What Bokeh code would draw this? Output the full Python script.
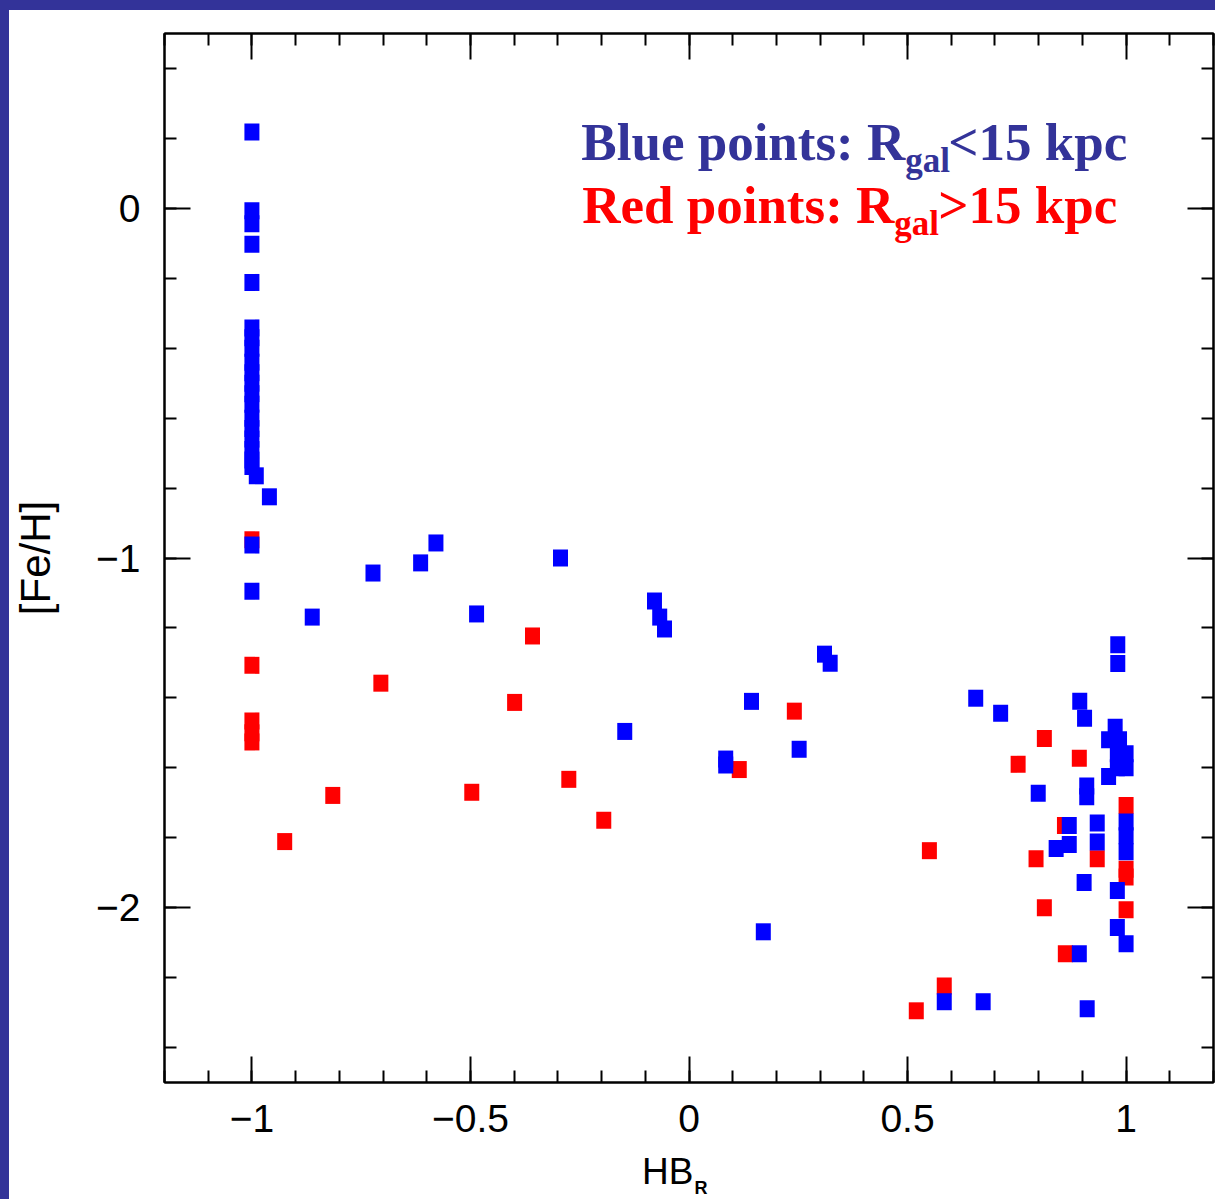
from bokeh.plotting import figure
from bokeh.models import Range1d, FixedTicker, LinearAxis, Label, Spacer
from bokeh.layouts import row, column
from bokeh.embed import file_html
from bokeh.resources import INLINE
import numpy as np

# ---- data (HB ratio vs [Fe/H]) ----
blue_x = [-1.0, -1.0, -1.0, -1.0, -1.0,
          -1.0, -1.0, -1.0, -1.0, -1.0, -1.0, -1.0, -1.0, -1.0, -1.0, -1.0, -1.0, -1.0, -1.0,
          -0.99, -0.96, -1.0, -1.0,
          -0.862, -0.723, -0.614, -0.579, -0.486, -0.294, -0.079, -0.067, -0.056,
          -0.147, 0.084, 0.084, 0.143, 0.252, 0.31, 0.323, 0.17,
          0.656, 0.713, 0.894, 0.905, 0.981, 0.981, 0.975, 0.96, 0.985,
          0.98, 1.0, 1.0, 0.98, 0.96, 0.799, 0.91, 0.91,
          1.0, 1.0, 1.0, 0.98, 0.98, 1.0, 0.893, 0.934, 0.934,
          0.87, 0.87, 0.84, 0.904, 0.584, 0.673, 0.911]
blue_y = [0.218, -0.007, -0.044, -0.103, -0.212,
          -0.342, -0.37, -0.40, -0.44, -0.47, -0.50, -0.53, -0.56, -0.60, -0.63, -0.66, -0.69, -0.72, -0.738,
          -0.765, -0.825, -0.963, -1.095,
          -1.169, -1.043, -1.014, -0.957, -1.160, -1.0, -1.123, -1.169, -1.203,
          -1.496, -1.575, -1.592, -1.41, -1.547, -1.275, -1.301, -2.069,
          -1.401, -1.444, -1.41, -1.458, -1.248, -1.302, -1.484, -1.52, -1.52,
          -1.56, -1.56, -1.60, -1.60, -1.625, -1.673, -1.652, -1.683,
          -1.755, -1.794, -1.84, -1.951, -2.057, -2.103, -2.132, -1.758, -1.812,
          -1.765, -1.819, -1.831, -1.928, -2.269, -2.269, -2.289]

red_x = [-1.0, -1.0, -1.0, -1.0, -1.0, -0.925, -0.815, -0.705, -0.497, -0.399,
         -0.358, -0.275, -0.195, 0.115, 0.241, 0.55, 0.52, 0.584, 0.753, 0.813,
         0.893, 0.859, 0.794, 0.934, 1.0, 1.0, 1.0, 1.0, 0.813, 0.861]
red_y = [-0.948, -1.307, -1.466, -1.50, -1.526, -1.811, -1.679, -1.358, -1.67, -1.413,
         -1.223, -1.633, -1.75, -1.605, -1.438, -1.837, -2.295, -2.224, -1.59, -1.516,
         -1.573, -1.765, -1.86, -1.86, -1.708, -1.89, -1.912, -2.006, -2.0, -2.132]

x_major = [-1, -0.5, 0, 0.5, 1]
x_labels = {-1: "\u22121", -0.5: "\u22120.5", 0: "0", 0.5: "0.5", 1: "1"}
y_major = [-2, -1, 0]
y_labels = {-2: "\u22122", -1: "\u22121", 0: "0"}

X0, X1 = -1.2, 1.2
Y0, Y1 = -2.5, 0.5

BLUE = "#0000FF"
RED = "#FF0000"
NAVY = "#333399"

p = figure(width=1206, height=1189, x_range=Range1d(X0, X1), y_range=Range1d(Y0, Y1),
           output_backend="svg", toolbar_location=None,
           min_border_left=154, min_border_right=2, min_border_top=23, min_border_bottom=117,
           x_axis_location=None, y_axis_location=None)
p.grid.visible = False
p.outline_line_color = "black"
p.outline_line_width = 2
p.background_fill_color = "white"
p.border_fill_color = "white"

x_minor = [round(v, 1) for v in np.arange(-1.2, 1.21, 0.1)]
y_minor = [round(v, 1) for v in np.arange(-2.4, 0.41, 0.2)]
xt = FixedTicker(ticks=x_major, minor_ticks=x_minor)
yt = FixedTicker(ticks=y_major, minor_ticks=y_minor)

def style(ax, show):
    ax.axis_line_width = 2
    ax.major_tick_in = 26
    ax.major_tick_out = 0
    ax.minor_tick_in = 12
    ax.minor_tick_out = 0
    ax.major_tick_line_width = 2
    ax.minor_tick_line_width = 2
    ax.major_label_text_font = "Liberation Sans"
    ax.major_label_text_color = "black"
    ax.major_label_text_font_size = "39px"
    if not show:
        ax.major_label_standoff = 0

bx = LinearAxis(ticker=xt, major_label_overrides=x_labels)
style(bx, True); bx.major_label_standoff = 22
tx = LinearAxis(ticker=xt, major_label_overrides={v: "" for v in x_major})
style(tx, False)
ly = LinearAxis(ticker=yt, major_label_overrides=y_labels, axis_label="[Fe/H]")
style(ly, True); ly.major_label_standoff = 24
ly.axis_label_text_font = "Liberation Sans"
ly.axis_label_text_font_style = "normal"
ly.axis_label_text_font_size = "42px"
ly.axis_label_text_color = "black"
ly.axis_label_standoff = 34
ry = LinearAxis(ticker=yt, major_label_overrides={v: "" for v in y_major})
style(ry, False)
p.add_layout(bx, "below")
p.add_layout(tx, "above")
p.add_layout(ly, "left")
p.add_layout(ry, "right")

p.rect(red_x, red_y, width=15, height=17, width_units="screen", height_units="screen",
       fill_color=RED, line_color=None)
p.rect(blue_x, blue_y, width=15, height=17, width_units="screen", height_units="screen",
       fill_color=BLUE, line_color=None)

# helpers to place annotations by page pixel position
def dx(px):
    return (px - 687.5) / 437.5
def dy(py):
    return (209 - py) / 349.0

def lab(px, py, text, size, color, font="Liberation Serif", style="bold", align="left",
        where=None):
    corr = 0.32 * size  # empirical baseline correction
    L = Label(x=dx(px), y=dy(py - corr), text=text, text_font=font, text_font_size=f"{size}px",
              text_font_style=style, text_color=color, text_align=align,
              text_baseline="alphabetic")
    if where:
        p.add_layout(L, where)
    else:
        p.add_layout(L)

lab(904, 160, "Blue points: R", 53, NAVY, align="right")
lab(904, 172, "gal", 35, NAVY)
lab(947, 160, "<15 kpc", 53, NAVY)
lab(893, 223, "Red points: R", 53, RED, align="right")
lab(893, 235, "gal", 35, RED)
lab(937, 223, ">15 kpc", 53, RED)

# x axis title with subscript, in the bottom panel (not clipped)
lab(692, 1182, "HB", 37, "black", font="Liberation Sans", style="normal", align="right", where="below")
lab(693, 1193, "R", 18, "black", font="Liberation Sans", style="bold", where="below")

left = Spacer(width=9, height=1199, styles={"background-color": NAVY})
top = Spacer(width=1206, height=10, styles={"background-color": NAVY})
layout = row(left, column(top, p))

open("out.html", "w").write(file_html(layout, INLINE))
